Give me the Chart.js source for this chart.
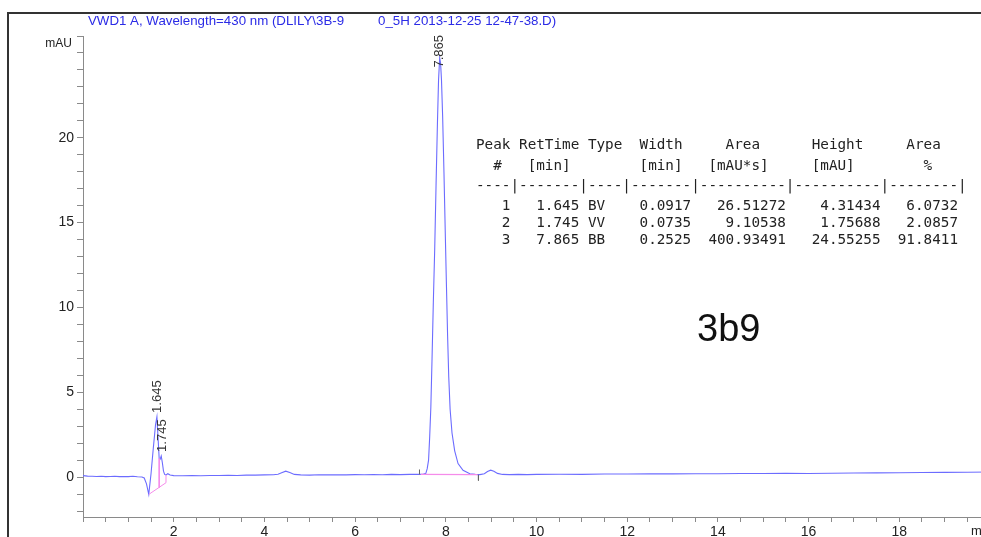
<!DOCTYPE html>
<html>
<head>
<meta charset="utf-8">
<script src="https://cdn.jsdelivr.net/npm/chart.js@4/dist/chart.umd.min.js"></script>
<style>
  html, body { margin: 0; padding: 0; background: #fff; overflow: hidden; width: 981px; height: 537px; }
  #cromatograma { display: block; }
</style>
</head>
<body>
<canvas id="cromatograma" width="1000" height="537"></canvas>
<script>
// señal del detector: [tiempo (min), mAU]
const traza = [
  [0, 0.09], [0.1, 0.06], [0.2, 0.05], [0.3, 0.04], [0.4, 0.05], [0.5, 0.03],
  [0.6, 0.04], [0.7, 0.05], [0.8, 0.03], [0.9, 0.04], [1.0, 0.03], [1.1, 0.05],
  [1.2, 0.02], [1.3, 0.01], [1.35, -0.05], [1.4, -0.4], [1.45, -1.02], [1.5, 0.2],
  [1.55, 1.7], [1.6, 3.1], [1.63, 3.55], [1.655, 2.3], [1.68, 1.1], [1.7, 1.05],
  [1.725, 1.25], [1.75, 0.85], [1.775, 0.35], [1.8, 0.16], [1.83, 0.13], [1.87, 0.2],
  [1.92, 0.12], [2.0, 0.09], [2.2, 0.08], [2.4, 0.09], [2.6, 0.08], [2.8, 0.1],
  [3.0, 0.1], [3.2, 0.11], [3.4, 0.1], [3.6, 0.12], [3.8, 0.12], [4.0, 0.13],
  [4.2, 0.14], [4.3, 0.17], [4.38, 0.26], [4.47, 0.35], [4.56, 0.27], [4.66, 0.16],
  [4.8, 0.13], [5.0, 0.12], [5.2, 0.14], [5.4, 0.13], [5.6, 0.14], [5.8, 0.13],
  [6.0, 0.15], [6.2, 0.14], [6.4, 0.15], [6.6, 0.14], [6.8, 0.16], [7.0, 0.15],
  [7.2, 0.16], [7.4, 0.16], [7.5, 0.17], [7.56, 0.22], [7.59, 0.5], [7.62, 1.0],
  [7.645, 2.4], [7.67, 4.1], [7.695, 6.8], [7.725, 10.3], [7.755, 13.4], [7.785, 17.2],
  [7.815, 20.8], [7.84, 23.4], [7.865, 24.7], [7.885, 24.4], [7.905, 23.4], [7.93, 21.3],
  [7.96, 17.9], [7.99, 14.2], [8.015, 11.2], [8.04, 8.3], [8.065, 5.9], [8.095, 4.0],
  [8.137, 2.6], [8.196, 1.55], [8.27, 0.8], [8.38, 0.4], [8.53, 0.2], [8.65, 0.16],
  [8.75, 0.15], [8.85, 0.2], [8.92, 0.33], [8.99, 0.41], [9.06, 0.35], [9.14, 0.22],
  [9.25, 0.16], [9.4, 0.15], [9.6, 0.16], [9.8, 0.15], [10, 0.16], [10.5, 0.17],
  [11, 0.16], [11.5, 0.18], [12, 0.18], [12.5, 0.19], [13, 0.19], [13.5, 0.2],
  [14, 0.2], [14.5, 0.21], [15, 0.21], [15.5, 0.22], [16, 0.21], [16.5, 0.23],
  [17, 0.24], [17.5, 0.25], [18, 0.26], [18.5, 0.27], [19, 0.28], [19.5, 0.29], [20, 0.3]
];

// líneas base de integración
const baseLinea1 = [[1.45, -1.02], [1.83, -0.33], [1.83, 0.13]];
const baseCorte1 = [[1.68, 1.1], [1.68, -0.62]];
const baseLinea3 = [[7.45, 0.16], [8.7, 0.15]];
const marcaInicio = [[7.42, 0.16], [7.42, 0.45]];
const marcaFin = [[8.72, 0.13], [8.72, -0.2]];

// picos
const picoNumero = [1, 2, 3];
const picoTiempo = [1.645, 1.745, 7.865];
const picoTipo = ["BV", "VV", "BB"];
const picoAncho = [0.0917, 0.0735, 0.2525];
const picoArea = [26.51272, 9.10538, 400.93491];
const picoAltura = [4.31434, 1.75688, 24.55255];
const picoPorcentaje = [6.0732, 2.0857, 91.8411];
const picoCima = [3.55, 1.25, 24.7];

const cabecera = [
  "Peak RetTime Type  Width     Area      Height     Area  ",
  "  #   [min]        [min]   [mAU*s]     [mAU]        %   ",
  "----|-------|----|-------|----------|----------|--------|"
];

const titulo1 = "VWD1 A, Wavelength=430 nm (DLILY\\3B-9";
const titulo2 = "0_5H 2013-12-25 12-47-38.D)";
const nombreMuestra = "3b9";

const marcasX = [2, 4, 6, 8, 10, 12, 14, 16, 18];
const marcasY = [0, 5, 10, 15, 20];

function puntos(lista) {
  return lista.map(p => ({ x: p[0], y: p[1] }));
}

function filasTabla() {
  let filas = cabecera.slice();
  for (let i = 0; i < picoNumero.length; i++) {
    filas.push(
      String(picoNumero[i]).padStart(4) +
      picoTiempo[i].toFixed(3).padStart(8) + " " + picoTipo[i] + " " +
      picoAncho[i].toFixed(4).padStart(9) +
      picoArea[i].toFixed(5).padStart(11) +
      picoAltura[i].toFixed(5).padStart(11) +
      picoPorcentaje[i].toFixed(4).padStart(9)
    );
  }
  return filas;
}

// textos que no son parte de los ejes
const textos = {
  id: "textos",
  afterDraw(chart) {
    const ctx = chart.ctx;
    const x = chart.scales.x;
    const y = chart.scales.y;
    ctx.save();

    // marco
    ctx.strokeStyle = "#333";
    ctx.lineWidth = 2;
    ctx.beginPath();
    ctx.moveTo(8, 540);
    ctx.lineTo(8, 13);
    ctx.lineTo(1000, 13);
    ctx.stroke();

    // titulo
    ctx.fillStyle = "#2b2be6";
    ctx.font = "13.3px 'Liberation Sans', Arial, sans-serif";
    ctx.textBaseline = "middle";
    ctx.textAlign = "left";
    ctx.fillText(titulo1, 88, 21);
    ctx.fillText(titulo2, 378, 21);

    // unidades
    ctx.fillStyle = "#222";
    ctx.font = "12px 'Liberation Sans', Arial, sans-serif";
    ctx.textAlign = "right";
    ctx.fillText("mAU", 72, 44);
    ctx.textAlign = "left";
    ctx.font = "13px 'Liberation Sans', Arial, sans-serif";
    ctx.fillText("min", 971, 531);

    // etiquetas de picos
    ctx.font = "13px 'Liberation Sans', Arial, sans-serif";
    ctx.fillStyle = "#333";
    for (let i = 0; i < picoTiempo.length; i++) {
      const etiqueta = picoTiempo[i].toFixed(3);
      const w = ctx.measureText(etiqueta).width;
      const px = x.getPixelForValue(picoTiempo[i]);
      let abajo = y.getPixelForValue(picoCima[i]) - 4;
      abajo = Math.max(abajo, 35 + w);
      ctx.save();
      ctx.translate(px, abajo);
      ctx.rotate(-Math.PI / 2);
      ctx.textAlign = "left";
      ctx.textBaseline = "middle";
      ctx.fillText(etiqueta, 0, 0);
      ctx.restore();
    }

    // tabla de integracion
    ctx.font = "14.3px 'DejaVu Sans Mono', monospace";
    ctx.fillStyle = "#222";
    ctx.textAlign = "left";
    const filaY = [145, 166, 186, 206, 223, 240];
    filasTabla().forEach((f, i) => ctx.fillText(f, 476, filaY[i]));

    // nombre de la muestra
    ctx.font = "38px 'Liberation Sans', Arial, sans-serif";
    ctx.fillStyle = "#111";
    ctx.fillText(nombreMuestra, 697, 331);

    ctx.restore();
  }
};

function grafico() {
  const canvas = document.getElementById("cromatograma");
  new Chart(canvas, {
    type: "line",
    data: {
      datasets: [
        { data: puntos(baseLinea1), borderColor: "#f58cea", borderWidth: 1 },
        { data: puntos(baseCorte1), borderColor: "#f58cea", borderWidth: 1 },
        { data: puntos(baseLinea3), borderColor: "#f58cea", borderWidth: 1.2 },
        { data: puntos(marcaInicio), borderColor: "#666", borderWidth: 1 },
        { data: puntos(marcaFin), borderColor: "#666", borderWidth: 1 },
        { data: puntos(traza), borderColor: "#6c6cff", borderWidth: 1.1 }
      ]
    },
    plugins: [textos],
    options: {
      responsive: false,
      animation: false,
      parsing: true,
      elements: { point: { radius: 0 }, line: { tension: 0 } },
      layout: { padding: { top: 36, right: 10, left: 0, bottom: 0 } },
      plugins: { legend: { display: false }, tooltip: { enabled: false }, title: { display: false } },
      scales: {
        x: {
          type: "linear",
          min: 0,
          max: 20,
          afterFit: s => { s.height = 20; },
          grid: { drawOnChartArea: false, tickLength: 5, color: "#8a8a8a" },
          border: { color: "#8a8a8a", width: 1 },
          ticks: {
            stepSize: 0.5,
            autoSkip: false,
            maxRotation: 0,
            padding: 2,
            color: "#222",
            font: { family: "'Liberation Sans', Arial, sans-serif", size: 14 },
            callback: v => marcasX.includes(v) ? String(v) : ""
          }
        },
        y: {
          min: -2.35,
          max: 26,
          afterFit: s => { s.width = 83; },
          grid: { drawOnChartArea: false, tickLength: 6, color: "#8a8a8a" },
          border: { color: "#8a8a8a", width: 1 },
          ticks: {
            stepSize: 1,
            includeBounds: false,
            autoSkip: false,
            padding: 3,
            color: "#222",
            font: { family: "'Liberation Sans', Arial, sans-serif", size: 14 },
            callback: v => marcasY.includes(v) ? String(v) : ""
          }
        }
      }
    }
  });
}

grafico();
</script>
</body>
</html>
